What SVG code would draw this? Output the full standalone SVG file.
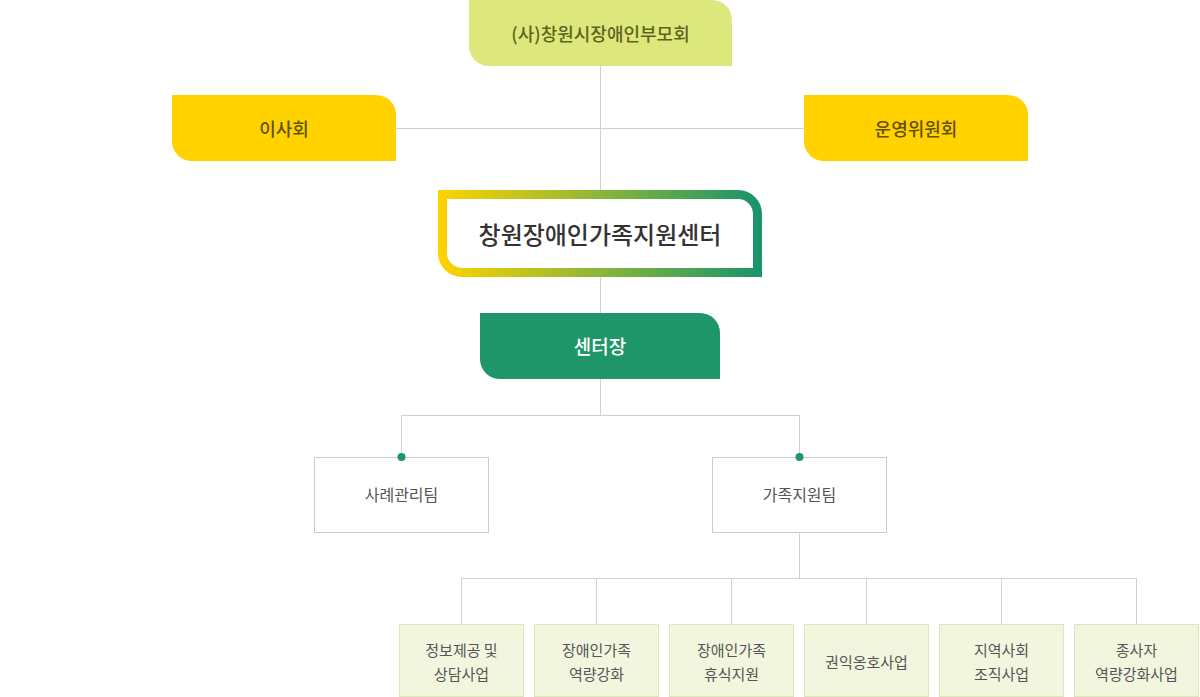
<svg xmlns="http://www.w3.org/2000/svg" width="1200" height="697" viewBox="0 0 1200 697">
<defs>
<linearGradient id="grad" x1="0" y1="0" x2="1" y2="0">
<stop offset="0" stop-color="#fcd200"/>
<stop offset="0.5" stop-color="#8ab63a"/>
<stop offset="1" stop-color="#1a946a"/>
</linearGradient>
<style>
text{font-family:"Noto Sans CJK KR","Noto Sans",sans-serif;text-anchor:middle;dominant-baseline:central}
.ln{stroke:#d2d2d2;stroke-width:1;fill:none}
.t1{font-size:18px;font-weight:500;fill:#5e6420}
.t2{font-size:18px;font-weight:500;fill:#5f5200}
.team{fill:#fff;stroke:#cccccc;stroke-width:1}
.tt{font-size:16px;fill:#555}
.sub{fill:#f3f6df;stroke:#dfe5bd;stroke-width:1}
.st{font-size:15px;fill:#555}
.dot{fill:#1e9669}
</style>
</defs>
<g id="connectors">
<path class="ln" d="M600.5 66V313M396 128.5H804M600.5 379V415.5M401.5 415.5H799.5M401.5 415V457M799.5 415V457"/>
<path class="ln" d="M799.5 532V578.5M461.5 578.5H1136.5M461.5 578V624M596.5 578V624M731.5 578V624M866.5 578V624M1001.5 578V624M1136.5 578V624"/>
</g>
<g id="top">
<path d="M469 0H712A20 20 0 0 1 732 20V66H489A20 20 0 0 1 469 46Z" fill="#dde87c"/>
<text class="t1" x="600.5" y="33">(사)창원시장애인부모회</text>
</g>
<g id="board">
<path d="M172 95H376A20 20 0 0 1 396 115V161H192A20 20 0 0 1 172 141Z" fill="#ffd200"/>
<text class="t2" x="284" y="128">이사회</text>
</g>
<g id="committee">
<path d="M804 95H1008A20 20 0 0 1 1028 115V161H824A20 20 0 0 1 804 141Z" fill="#ffd200"/>
<text class="t2" x="916" y="128">운영위원회</text>
</g>
<g id="center">
<path d="M442.5 194.5H738A19.5 19.5 0 0 1 757.5 214V272.5H462A19.5 19.5 0 0 1 442.5 253Z" fill="#fff" stroke="url(#grad)" stroke-width="9"/>
<text x="600" y="233" style="font-size:24px;font-weight:500;fill:#333">창원장애인가족지원센터</text>
</g>
<g id="director">
<path d="M480 313H700A20 20 0 0 1 720 333V379H500A20 20 0 0 1 480 359Z" fill="#1e9669"/>
<text x="600" y="345" style="font-size:19px;font-weight:500;fill:#fff">센터장</text>
</g>
<g id="team1">
<rect class="team" x="314.5" y="457.5" width="174" height="75"/>
<circle class="dot" cx="401.5" cy="457" r="4"/>
<text class="tt" x="401.5" y="494">사례관리팀</text>
</g>
<g id="team2">
<rect class="team" x="712.5" y="457.5" width="174" height="75"/>
<circle class="dot" cx="799.5" cy="457" r="4"/>
<text class="tt" x="799.5" y="494">가족지원팀</text>
</g>
<g id="s1">
<rect class="sub" x="399.5" y="624.5" width="124" height="72"/>
<text class="st" x="461.5" y="649">정보제공 및</text>
<text class="st" x="461.5" y="673">상담사업</text>
</g>
<g id="s2">
<rect class="sub" x="534.5" y="624.5" width="124" height="72"/>
<text class="st" x="596.5" y="649">장애인가족</text>
<text class="st" x="596.5" y="673">역량강화</text>
</g>
<g id="s3">
<rect class="sub" x="669.5" y="624.5" width="124" height="72"/>
<text class="st" x="731.5" y="649">장애인가족</text>
<text class="st" x="731.5" y="673">휴식지원</text>
</g>
<g id="s4">
<rect class="sub" x="804.5" y="624.5" width="124" height="72"/>
<text class="st" x="866.5" y="661">권익옹호사업</text>
</g>
<g id="s5">
<rect class="sub" x="939.5" y="624.5" width="124" height="72"/>
<text class="st" x="1001.5" y="649">지역사회</text>
<text class="st" x="1001.5" y="673">조직사업</text>
</g>
<g id="s6">
<rect class="sub" x="1074.5" y="624.5" width="124" height="72"/>
<text class="st" x="1136.5" y="649">종사자</text>
<text class="st" x="1136.5" y="673">역량강화사업</text>
</g>
</svg>
